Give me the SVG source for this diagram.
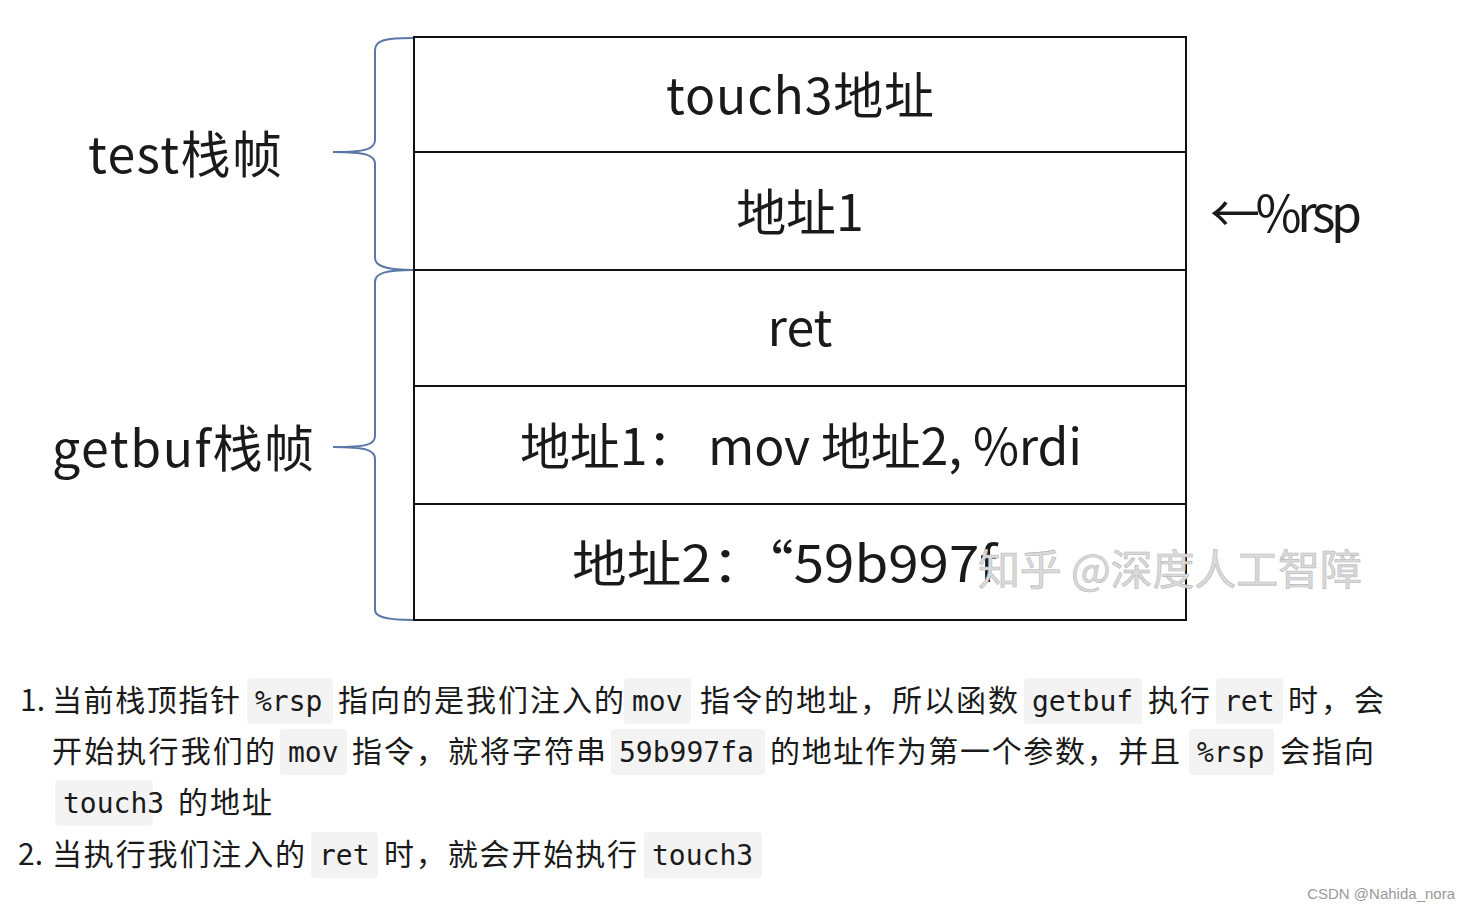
<svg xmlns="http://www.w3.org/2000/svg" width="1470" height="912" viewBox="0 0 1470 912">
<style>
.cell{fill:#fff;stroke:#111;stroke-width:2}
.dt{font-family:"Noto Sans CJK SC","Noto Sans",sans-serif;font-size:50px;fill:#1a1a1a}
.brace{fill:none;stroke:#5a78a6;stroke-width:2}
.p{font-family:"Noto Sans CJK SC","Noto Sans",sans-serif;font-size:30px;fill:#1a1a1a}
.c{font-family:"DejaVu Sans Mono","Liberation Mono",monospace;font-size:28px;fill:#1a1a1a}
.cb{fill:#f3f3f3}
.wm{font-family:"Noto Sans CJK SC",sans-serif;font-size:42px;fill:#dadada;stroke:#b8b8b8;stroke-width:0.6}
</style>
<rect width="1470" height="912" fill="#fff"/>
<g id="stack">
<g id="n-touch3"><rect class="cell" x="414" y="37" width="772" height="115"/><text class="dt" x="800" y="114" text-anchor="middle" textLength="268">touch3地址</text></g>
<g id="n-addr1"><rect class="cell" x="414" y="152" width="772" height="118"/><text class="dt" x="800" y="231" text-anchor="middle">地址1</text></g>
<g id="n-ret"><rect class="cell" x="414" y="270" width="772" height="116"/><text class="dt" x="800" y="346" text-anchor="middle">ret</text></g>
<g id="n-mov"><rect class="cell" x="414" y="386" width="772" height="118"/><text class="dt" x="520" y="465" textLength="562">地址1：  mov 地址2, %rdi</text></g>
<g id="n-addr2"><rect class="cell" x="414" y="504" width="772" height="116"/><text class="dt" x="572" y="582" font-size="52" textLength="425" lengthAdjust="spacingAndGlyphs">地址2：“59b997f</text></g>
</g>
<g id="labels">
<g id="n-test"><text class="dt" x="88" y="173" textLength="194">test栈帧</text></g>
<g id="n-getbuf"><text class="dt" x="52" y="467" textLength="262">getbuf栈帧</text></g>
<g id="n-rsp"><text class="dt" x="1210" y="232" font-size="46" textLength="152">←%rsp</text></g>
</g>
<g id="connectors">
<path class="brace" d="M413,38 C386,38 375,40 375,50 L375,140 C375,149 366,152 333,152 C366,152 375,155 375,164 L375,258 C375,266 386,270 413,270"/>
<path class="brace" d="M413,270 C386,270 375,273 375,282 L375,436 C375,445 366,447 333,447 C366,447 375,450 375,459 L375,610 C375,617 386,620 413,620"/>
</g>
<g id="watermark"><text class="wm" x="978" y="585" textLength="384">知乎 @深度人工智障</text></g>
<g id="notes">
<rect class="cb" x="247" y="678" width="86" height="46" rx="4"/>
<rect class="cb" x="624" y="678" width="67" height="46" rx="4"/>
<rect class="cb" x="1024" y="678" width="118" height="46" rx="4"/>
<rect class="cb" x="1216" y="678" width="67" height="46" rx="4"/>
<rect class="cb" x="280" y="729" width="67" height="46" rx="4"/>
<rect class="cb" x="611" y="729" width="154" height="46" rx="4"/>
<rect class="cb" x="1189" y="729" width="85" height="46" rx="4"/>
<rect class="cb" x="55" y="780" width="98" height="46" rx="4"/>
<rect class="cb" x="311" y="832" width="67" height="46" rx="4"/>
<rect class="cb" x="644" y="832" width="118" height="46" rx="4"/>
<text class="p" x="20" y="711">1.</text>
<text class="p" x="52" y="711" textLength="188">当前栈顶指针</text>
<text class="c" x="255" y="711">%rsp</text>
<text class="p" x="338" y="711" textLength="286">指向的是我们注入的</text>
<text class="c" x="632" y="711">mov</text>
<text class="p" x="700" y="711" textLength="318">指令的地址，所以函数</text>
<text class="c" x="1032" y="711">getbuf</text>
<text class="p" x="1148" y="711" textLength="62">执行</text>
<text class="c" x="1224" y="711">ret</text>
<text class="p" x="1288" y="711" textLength="96">时，会</text>
<text class="p" x="52" y="762" textLength="223">开始执行我们的</text>
<text class="c" x="288" y="762">mov</text>
<text class="p" x="352" y="762" textLength="254">指令，就将字符串</text>
<text class="c" x="619" y="762">59b997fa</text>
<text class="p" x="770" y="762" textLength="410">的地址作为第一个参数，并且</text>
<text class="c" x="1197" y="762">%rsp</text>
<text class="p" x="1280" y="762" textLength="94">会指向</text>
<text class="c" x="63" y="813">touch3</text>
<text class="p" x="178" y="813" textLength="94">的地址</text>
<text class="p" x="18" y="865">2.</text>
<text class="p" x="52" y="865" textLength="253">当执行我们注入的</text>
<text class="c" x="319" y="865">ret</text>
<text class="p" x="384" y="865" textLength="253">时，就会开始执行</text>
<text class="c" x="652" y="865">touch3</text>
</g>
<text x="1455" y="899" text-anchor="end" font-family="Liberation Sans,sans-serif" font-size="15" fill="#999">CSDN @Nahida_nora</text>
</svg>
